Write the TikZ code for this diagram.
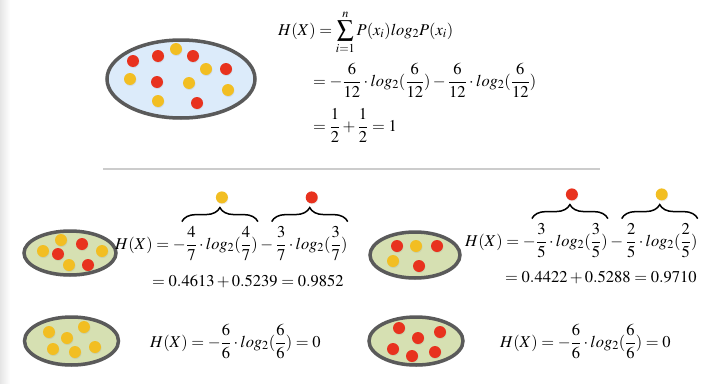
\documentclass[tikz,border=0pt]{standalone}
\usepackage{amsmath}
\usepackage{mathptmx}
\usetikzlibrary{positioning,decorations.pathreplacing,shadows}

\definecolor{dotred}{RGB}{232,50,30}
\definecolor{dotyellow}{RGB}{242,190,34}
\definecolor{rimgray}{RGB}{90,90,90}
\definecolor{bagblue}{RGB}{220,235,250}
\definecolor{baggreen}{RGB}{214,224,178}

\begin{document}
\begin{tikzpicture}[x=1pt, y=-1pt,
  bag/.style={draw=rimgray, line width=3.5pt, drop shadow={opacity=0.2, shadow xshift=0pt, shadow yshift=-2pt}},
  speck/.style={drop shadow={opacity=0.15, shadow xshift=0.5pt, shadow yshift=-1pt}},
  ball/.style={circle, inner sep=0pt, minimum size=12pt, speck},
  eq/.style={inner sep=0pt, font=\fontsize{16.5}{19}\selectfont},
  brace/.style={decorate, decoration={brace, amplitude=14pt}, line width=1.5pt}]
  \useasboundingbox (0,0) rectangle (728,383);
  \shade[left color=black!10, right color=white] (0,0) rectangle (10,383);

  % all twelve balls
  \path[bag, fill=bagblue] (181,79) ellipse [x radius=74pt, y radius=39pt];
  \foreach \x/\y in {133/61, 158/56, 193/56, 226/69, 157/82, 197/103}
    \fill[dotred, speck] (\x,\y) circle (6pt);
  \foreach \x/\y in {176/49, 206/69, 130/79, 189/83, 228/90, 158/101}
    \fill[dotyellow, speck] (\x,\y) circle (6pt);
  \node[eq, anchor=base west] (top1) at (278,35) {$H(X) = \displaystyle\sum_{i=1}^{n} P(x_i)log_2P(x_i)$};
  \node[eq, anchor=base west] (top2) at (313,86) {$\displaystyle = -\frac{6}{12}\cdot log_2(\frac{6}{12}) - \frac{6}{12}\cdot log_2(\frac{6}{12})$};
  \node[eq, anchor=base west] (top3) at (313,131) {$\displaystyle = \frac{1}{2} + \frac{1}{2} = 1$};

  \draw[gray!40, line width=1.5pt] (103,169) -- (600,169);

  % 4 yellow, 3 red
  \path[bag, fill=baggreen] (70,253) ellipse [x radius=46pt, y radius=22pt];
  \foreach \x/\y in {43/251, 61/240, 102/251, 69/265}
    \fill[dotyellow, speck] (\x,\y) circle (6pt);
  \foreach \x/\y in {58/254, 82/244, 88/265}
    \fill[dotred, speck] (\x,\y) circle (6pt);
  \node[eq, anchor=base west] (hA) at (115,249) {$H(X) = -$};
  \node[eq, base right=0pt of hA] (pA) {$\displaystyle\frac{4}{7}\cdot log_2(\frac{4}{7})$};
  \node[eq, base right=0pt of pA] (mA) {$\displaystyle{}-{}$};
  \node[eq, base right=0pt of mA] (qA) {$\displaystyle\frac{3}{7}\cdot log_2(\frac{3}{7})$};
  \node[eq, anchor=base west] (rA) at (152,286) {$= 0.4613 + 0.5239 = 0.9852$};
  \draw[brace] ([xshift=-4pt, yshift=5pt]pA.north west) -- ([yshift=5pt]pA.north east);
  \draw[brace] ([xshift=-4pt, yshift=5pt]qA.north west) -- ([yshift=5pt]qA.north east);
  \node[ball, fill=dotyellow, above=23pt of pA] (yA) {};
  \node[ball, fill=dotred, above=23pt of qA] (xA) {};

  % 3 red, 2 yellow
  \path[bag, fill=baggreen] (415,255) ellipse [x radius=45pt, y radius=23pt];
  \foreach \x/\y in {397/246, 437/246, 419/266}
    \fill[dotred, speck] (\x,\y) circle (6pt);
  \foreach \x/\y in {416/246, 393/261}
    \fill[dotyellow, speck] (\x,\y) circle (6pt);
  \node[eq, anchor=base west] (hB) at (465,246) {$H(X) = -$};
  \node[eq, base right=0pt of hB] (pB) {$\displaystyle\frac{3}{5}\cdot log_2(\frac{3}{5})$};
  \node[eq, base right=0pt of pB] (mB) {$\displaystyle{}-{}$};
  \node[eq, base right=0pt of mB] (qB) {$\displaystyle\frac{2}{5}\cdot log_2(\frac{2}{5})$};
  \node[eq, anchor=base west] (rB) at (505,282) {$= 0.4422 + 0.5288 = 0.9710$};
  \draw[brace] ([xshift=-4pt, yshift=5pt]pB.north west) -- ([yshift=5pt]pB.north east);
  \draw[brace] ([xshift=-4pt, yshift=5pt]qB.north west) -- ([yshift=5pt]qB.north east);
  \node[ball, fill=dotred, above=23pt of pB] (xB) {};
  \node[ball, fill=dotyellow, above=23pt of qB] (yB) {};

  % pure bags
  \path[bag, fill=baggreen] (71.5,341) ellipse [x radius=47pt, y radius=24pt];
  \foreach \x/\y in {49/332, 84/327, 67/338, 53/349, 75/352, 95/347}
    \fill[dotyellow, speck] (\x,\y) circle (6pt);
  \node[eq, anchor=base west] (hC) at (150,347) {$\displaystyle H(X) = -\frac{6}{6}\cdot log_2(\frac{6}{6}) = 0$};

  \path[bag, fill=baggreen] (416,341) ellipse [x radius=47pt, y radius=24pt];
  \foreach \x/\y in {399/328, 418/338, 440/332, 393/349, 412/356, 435/352}
    \fill[dotred, speck] (\x,\y) circle (6pt);
  \node[eq, anchor=base west] (hD) at (500,347) {$\displaystyle H(X) = -\frac{6}{6}\cdot log_2(\frac{6}{6}) = 0$};
\end{tikzpicture}
\end{document}
